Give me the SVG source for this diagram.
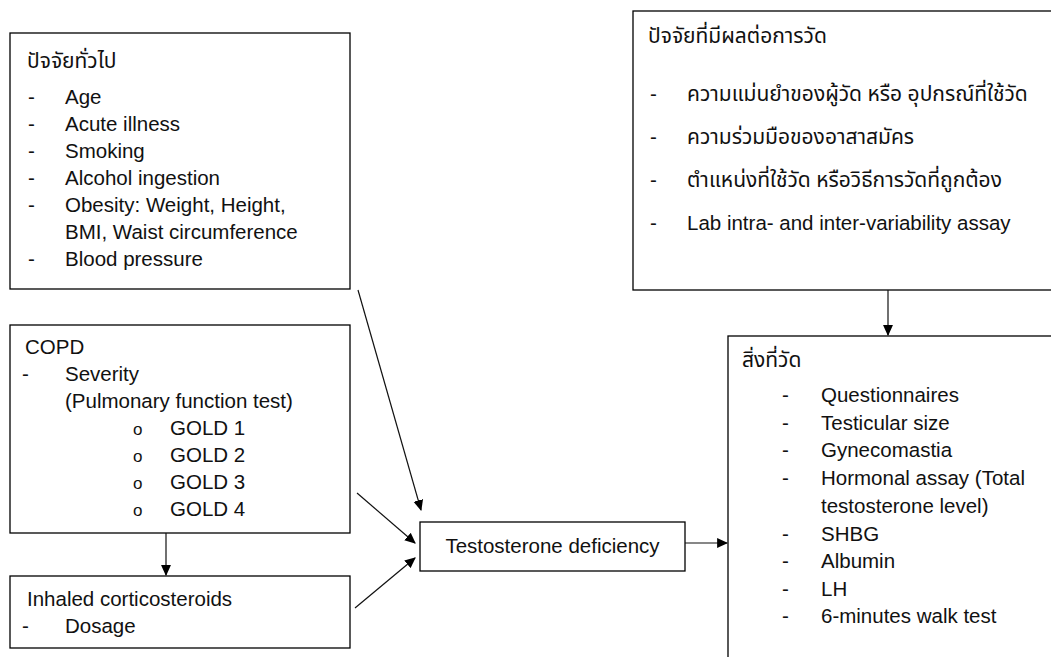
<svg xmlns="http://www.w3.org/2000/svg" width="1051" height="657" viewBox="0 0 1051 657">
<defs>
<marker id="ah" viewBox="0 0 10 10" refX="9" refY="5" markerWidth="11" markerHeight="11" markerUnits="userSpaceOnUse" orient="auto"><path d="M0,0.5 L10,5 L0,9.5 z" fill="#000"/></marker>
<style>
.box{fill:#fff;stroke:#000;stroke-width:1.3}
text{font-family:"Liberation Sans",Arial,sans-serif;font-size:20.5px;fill:#111}
.th{font-family:"Noto Sans Thai","Noto Sans Thai Looped","Tlwg Typo","Liberation Sans",sans-serif;font-size:21px}
.bul{font-size:17px}
.con{stroke:#111;stroke-width:1.2;fill:none;marker-end:url(#ah)}
</style>
</defs>
<rect width="1051" height="657" fill="#fff"/>
<g id="general">
<rect class="box" x="10" y="33" width="340" height="256"/>
<text class="th" x="27" y="68">ปัจจัยทั่วไป</text>
<text x="28" y="104">-</text><text x="65" y="104">Age</text>
<text x="28" y="131">-</text><text x="65" y="131">Acute illness</text>
<text x="28" y="158">-</text><text x="65" y="158">Smoking</text>
<text x="28" y="185">-</text><text x="65" y="185">Alcohol ingestion</text>
<text x="28" y="212">-</text><text x="65" y="212">Obesity: Weight, Height,</text>
<text x="65" y="239">BMI, Waist circumference</text>
<text x="28" y="266">-</text><text x="65" y="266">Blood pressure</text>
</g>
<g id="copd">
<rect class="box" x="10" y="325" width="340" height="208"/>
<text x="25" y="354">COPD</text>
<text x="22" y="381">-</text><text x="65" y="381">Severity</text>
<text x="65" y="408">(Pulmonary function test)</text>
<text class="bul" x="133" y="435">o</text><text x="170" y="435">GOLD 1</text>
<text class="bul" x="133" y="462">o</text><text x="170" y="462">GOLD 2</text>
<text class="bul" x="133" y="489">o</text><text x="170" y="489">GOLD 3</text>
<text class="bul" x="133" y="516">o</text><text x="170" y="516">GOLD 4</text>
</g>
<g id="ics">
<rect class="box" x="10" y="576" width="340" height="72"/>
<text x="27" y="606">Inhaled corticosteroids</text>
<text x="22" y="633">-</text><text x="65" y="633">Dosage</text>
</g>
<g id="testosterone">
<rect class="box" x="420" y="522" width="265" height="49"/>
<text x="552.5" y="553" text-anchor="middle">Testosterone deficiency</text>
</g>
<g id="measure-factors">
<rect class="box" x="633" y="11" width="430" height="279"/>
<text class="th" x="648" y="43">ปัจจัยที่มีผลต่อการวัด</text>
<text x="650" y="101">-</text><text class="th" x="687" y="101">ความแม่นยำของผู้วัด หรือ อุปกรณ์ที่ใช้วัด</text>
<text x="650" y="144">-</text><text class="th" x="687" y="144">ความร่วมมือของอาสาสมัคร</text>
<text x="650" y="187">-</text><text class="th" x="687" y="187">ตำแหน่งที่ใช้วัด หรือวิธีการวัดที่ถูกต้อง</text>
<text x="650" y="230">-</text><text x="687" y="230">Lab intra- and inter-variability assay</text>
</g>
<g id="measured">
<rect class="box" x="728" y="336" width="335" height="340"/>
<text class="th" x="742" y="367">สิ่งที่วัด</text>
<text x="782" y="402">-</text><text x="821" y="402">Questionnaires</text>
<text x="782" y="430">-</text><text x="821" y="430">Testicular size</text>
<text x="782" y="457">-</text><text x="821" y="457">Gynecomastia</text>
<text x="782" y="485">-</text><text x="821" y="485">Hormonal assay (Total</text>
<text x="821" y="513">testosterone level)</text>
<text x="782" y="541">-</text><text x="821" y="541">SHBG</text>
<text x="782" y="568">-</text><text x="821" y="568">Albumin</text>
<text x="782" y="596">-</text><text x="821" y="596">LH</text>
<text x="782" y="623">-</text><text x="821" y="623">6-minutes walk test</text>
</g>
<g id="connectors">
<line class="con" x1="358" y1="290" x2="421" y2="510"/>
<line class="con" x1="357" y1="493" x2="415" y2="543"/>
<line class="con" x1="355" y1="608" x2="415" y2="558"/>
<line class="con" x1="166" y1="533" x2="166" y2="575"/>
<line class="con" x1="685" y1="543" x2="727" y2="543"/>
<line class="con" x1="888" y1="290" x2="888" y2="335"/>
</g>
</svg>
